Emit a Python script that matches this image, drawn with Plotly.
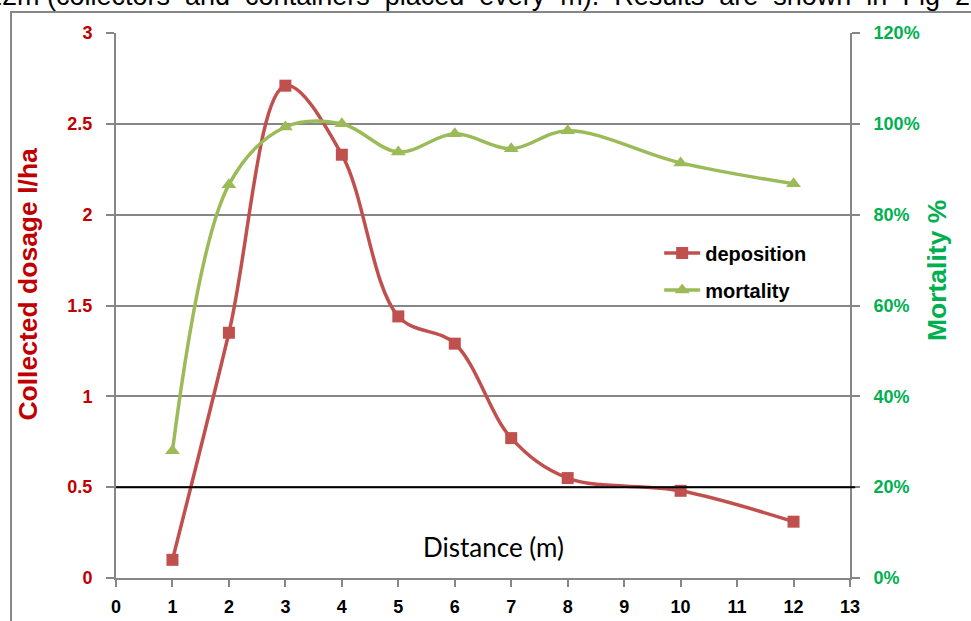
import plotly.graph_objects as go

distance = [1, 2, 3, 4, 5, 6, 7, 8, 10, 12]
deposition = [0.10, 1.35, 2.71, 2.33, 1.44, 1.29, 0.77, 0.55, 0.48, 0.31]
mortality = [0.28, 0.866, 0.993, 1.0, 0.938, 0.978, 0.945, 0.985, 0.914, 0.868]
x_ticks = list(range(0, 14))
y_ticks = [0, 0.5, 1, 1.5, 2, 2.5, 3]
y2_ticks = [0, 0.2, 0.4, 0.6, 0.8, 1.0, 1.2]
threshold = 0.5

RED = "#C0504D"
GREEN = "#9BBB59"
GRID = "#868686"

fig = go.Figure()
fig.add_trace(go.Scatter(
    x=distance, y=deposition, name="deposition", mode="lines+markers",
    line=dict(color=RED, width=3.5, shape="spline", smoothing=1.0),
    marker=dict(symbol="square", size=12, color=RED),
    legend="legend",
))
fig.add_trace(go.Scatter(
    x=distance, y=mortality, name="mortality", mode="lines+markers", yaxis="y2",
    line=dict(color=GREEN, width=3.5, shape="spline", smoothing=1.0),
    marker=dict(symbol="triangle-up", size=13, color=GREEN),
    legend="legend2",
))

fig.update_layout(
    width=971, height=621,
    margin=dict(l=116, r=121, t=33, b=43),
    paper_bgcolor="white", plot_bgcolor="white",
    showlegend=True,
    xaxis=dict(range=[0, 13], tickvals=x_ticks, showgrid=False, zeroline=False, automargin=False,
               showline=True, linecolor=GRID, linewidth=2,
               ticks="outside", ticklen=7, tickwidth=2, tickcolor=GRID,
               tickfont=dict(family="Arial", size=18, color="black", weight="bold"),
               ticklabelstandoff=4),
    yaxis=dict(range=[0, 3], tickvals=y_ticks, ticktext=["0", "0.5", "1", "1.5", "2", "2.5", "3"],
               showgrid=True, gridcolor=GRID, gridwidth=2, zeroline=False, automargin=False,
               showline=True, linecolor=GRID, linewidth=2,
               ticks="outside", ticklen=8, tickwidth=2, tickcolor=GRID,
               tickfont=dict(family="Arial", size=18, color="#C00000", weight="bold"),
               ticklabelstandoff=10),
    yaxis2=dict(range=[0, 1.2], tickvals=y2_ticks, tickformat=".0%", overlaying="y", side="right",
                showgrid=False, zeroline=False, automargin=False,
                showline=True, linecolor=GRID, linewidth=2,
                ticks="outside", ticklen=8, tickwidth=2, tickcolor=GRID,
                tickfont=dict(family="Arial", size=18, color="#00B050", weight="bold"),
                ticklabelstandoff=10),
    legend=dict(x=0.74, y=0.632, xanchor="left", yanchor="top", bgcolor="rgba(0,0,0,0)",
                itemwidth=36,
                font=dict(family="Arial", size=20, color="black", weight="bold")),
    legend2=dict(x=0.74, y=0.564, xanchor="left", yanchor="top", bgcolor="rgba(0,0,0,0)",
                 itemwidth=36,
                 font=dict(family="Arial", size=20, color="black", weight="bold")),
)

fig.add_shape(type="line", xref="paper", yref="y", x0=0, x1=1.007, y0=threshold, y1=threshold,
              line=dict(color="black", width=2))
fig.add_shape(type="rect", xref="paper", yref="paper", x0=-0.143, x1=1.3, y0=-0.3, y1=1.0385,
              line=dict(color=GRID, width=2), layer="below")

fig.add_annotation(text="Collected dosage l/ha", xref="paper", yref="paper",
                   x=-0.120, y=0.540, xanchor="center", yanchor="middle", textangle=-90, showarrow=False,
                   font=dict(family="Arial", size=26.5, color="#C00000", weight="bold"))
fig.add_annotation(text="Mortality %", xref="paper", yref="paper",
                   x=1.1185, y=0.565, xanchor="center", yanchor="middle", textangle=-90, showarrow=False,
                   font=dict(family="Arial", size=26.5, color="#00B050", weight="bold"))
fig.add_annotation(text="Distance (m)", xref="x", yref="y", x=6.69, y=0.17, showarrow=False,
                   font=dict(family="Lato", size=26, color="black"))
top_words = ["12m", "(collectors", "and", "containers", "placed", "every", "m).",
             "Results", "are", "shown", "in", "Fig", "2"]
top_text = top_words[0] + " " + " \u00a0".join(top_words[1:])
fig.add_annotation(text=top_text,
                   xref="paper", yref="paper", x=-0.1785, y=1.037, xanchor="left", yanchor="bottom",
                   showarrow=False, font=dict(family="Arial", size=27, color="black"))

fig.write_html("out.html", config={"displayModeBar": False})
